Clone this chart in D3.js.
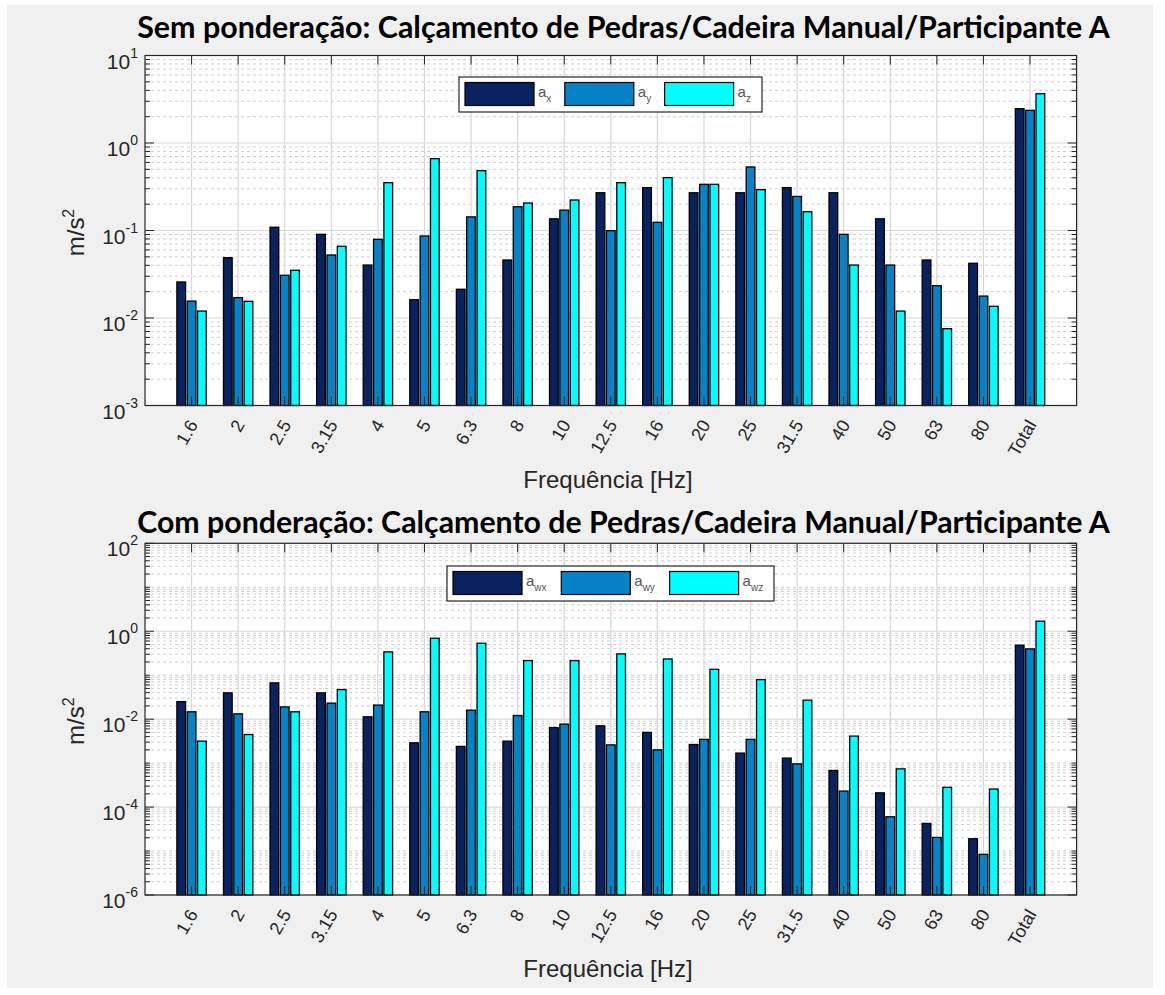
<!DOCTYPE html>
<html>
<head>
<meta charset="utf-8">
<script src="https://cdn.jsdelivr.net/npm/d3@7"></script>
<style>
  body { margin: 0; background: #ffffff; }
  svg { display: block; }
</style>
</head>
<body>
<div id="chart"></div>
<script>
// Bandas de 1/3 de oitava + total
var categories = ["1.6", "2", "2.5", "3.15", "4", "5", "6.3", "8", "10", "12.5",
                  "16", "20", "25", "31.5", "40", "50", "63", "80", "Total"];

// Sem ponderacao (m/s^2)
var semX = [0.0258, 0.0489, 0.109, 0.0904, 0.0403, 0.0162, 0.0213, 0.046, 0.136, 0.27,
            0.309, 0.27, 0.27, 0.309, 0.27, 0.136, 0.046, 0.0422, 2.47];
var semY = [0.0156, 0.0171, 0.0308, 0.0525, 0.0793, 0.0865, 0.143, 0.187, 0.171, 0.0995,
            0.124, 0.337, 0.532, 0.245, 0.0904, 0.0403, 0.0234, 0.0178, 2.36];
var semZ = [0.012, 0.0155, 0.0351, 0.066, 0.352, 0.662, 0.483, 0.206, 0.223, 0.352,
            0.402, 0.337, 0.293, 0.164, 0.0403, 0.012, 0.00755, 0.0136, 3.66];

// Com ponderacao (m/s^2)
var comX = [0.0251, 0.0396, 0.0668, 0.0396, 0.0113, 0.00289, 0.0024, 0.00316, 0.00645, 0.00705,
            0.005, 0.00265, 0.00169, 0.0013, 0.00068, 0.000211, 0.0000425, 0.000019, 0.481];
var comY = [0.0147, 0.0132, 0.019, 0.0231, 0.0209, 0.0147, 0.016, 0.0121, 0.00769, 0.0026,
            0.002, 0.00347, 0.00347, 0.00096, 0.000231, 0.0000602, 0.0000204, 0.0000084, 0.396];
var comZ = [0.00316, 0.00447, 0.0147, 0.0471, 0.339, 0.692, 0.533, 0.215, 0.215, 0.305,
            0.234, 0.136, 0.0794, 0.027, 0.00411, 0.00074, 0.000281, 0.000257, 1.69];

var semTickExps = [1, 0, -1, -2, -3];
var comTickExps = [2, 0, -2, -4, -6];

var semLegend = ["x", "y", "z"];
var comLegend = ["wx", "wy", "wz"];

var seriesColors = ["#0b2261", "#0782c6", "#00ffff"];

//// SETTINGS ///////////////////////////////////////////////////////////////////
var width = 1165, height = 995;
var axLeft = 145, axRight = 1076.6;
var textColor = "#262626";
var labelFont = "'Liberation Sans', Arial, Helvetica, sans-serif";

var svg = d3.select("#chart").append("svg")
    .attr("width", width)
    .attr("height", height);

svg.append("rect")
    .attr("x", 7).attr("y", 5)
    .attr("width", 1146).attr("height", 983)
    .attr("fill", "#f0f0f0");

var x = d3.scaleLinear().domain([0, categories.length + 1]).range([axLeft, axRight]);
var unit = x(1) - x(0);
var barW = unit * 0.187,
    barPitch = unit * 0.222;

function label(sel) {
    return sel.append("text")
        .attr("font-family", labelFont)
        .attr("fill", textColor);
}

function drawPanel(cfg) {
    var y = d3.scaleLog().domain(cfg.domain).range([cfg.bottom, cfg.top]);
    var g = svg.append("g");

    g.append("rect")
        .attr("x", axLeft).attr("y", cfg.top)
        .attr("width", axRight - axLeft).attr("height", cfg.bottom - cfg.top)
        .attr("fill", "#ffffff");

    // Grid: minor (dotted) then major (solid)
    var lo = Math.log10(cfg.domain[0]), hi = Math.log10(cfg.domain[1]);
    var majorVals = cfg.tickExps.map(function(e) { return Math.pow(10, e); });
    var minorVals = [];
    for (var e = lo; e < hi; e++) {
        for (var m = 1; m < 10; m++) {
            var v = m * Math.pow(10, e);
            if (majorVals.indexOf(v) < 0 && !(m === 1 && e === lo)) minorVals.push(v);
        }
    }

    g.selectAll(".minor-grid").data(minorVals).enter().append("line")
        .attr("x1", axLeft).attr("x2", axRight)
        .attr("y1", function(d) { return y(d); }).attr("y2", function(d) { return y(d); })
        .attr("stroke", "#d0d0d0").attr("stroke-width", 1)
        .attr("stroke-dasharray", "3,3");

    g.selectAll(".major-grid").data(majorVals).enter().append("line")
        .attr("x1", axLeft).attr("x2", axRight)
        .attr("y1", function(d) { return y(d); }).attr("y2", function(d) { return y(d); })
        .attr("stroke", "#d8d8d8").attr("stroke-width", 1.2);

    g.selectAll(".v-grid").data(categories).enter().append("line")
        .attr("x1", function(d, i) { return x(i + 1); }).attr("x2", function(d, i) { return x(i + 1); })
        .attr("y1", cfg.top).attr("y2", cfg.bottom)
        .attr("stroke", "#d8d8d8").attr("stroke-width", 1.2);

    // Bars
    cfg.series.forEach(function(vals, s) {
        g.selectAll(".bar" + s).data(vals).enter().append("rect")
            .attr("x", function(d, i) { return x(i + 1) + (s - 1) * barPitch - barW / 2; })
            .attr("y", function(d) { return y(d); })
            .attr("width", barW)
            .attr("height", function(d) { return cfg.bottom - y(d); })
            .attr("fill", seriesColors[s])
            .attr("stroke", "#000").attr("stroke-width", 1.3);
    });

    // Ticks (on top of bars, inward)
    var tickLen = 9, minorLen = 5;
    categories.forEach(function(c, i) {
        var tx = x(i + 1);
        g.append("line").attr("x1", tx).attr("x2", tx)
            .attr("y1", cfg.bottom).attr("y2", cfg.bottom - tickLen)
            .attr("stroke", textColor);
        g.append("line").attr("x1", tx).attr("x2", tx)
            .attr("y1", cfg.top).attr("y2", cfg.top + tickLen)
            .attr("stroke", textColor);
    });
    majorVals.forEach(function(v) {
        g.append("line").attr("x1", axLeft).attr("x2", axLeft + tickLen)
            .attr("y1", y(v)).attr("y2", y(v)).attr("stroke", textColor);
        g.append("line").attr("x1", axRight).attr("x2", axRight - tickLen)
            .attr("y1", y(v)).attr("y2", y(v)).attr("stroke", textColor);
    });
    minorVals.forEach(function(v) {
        g.append("line").attr("x1", axLeft).attr("x2", axLeft + minorLen)
            .attr("y1", y(v)).attr("y2", y(v)).attr("stroke", textColor);
        g.append("line").attr("x1", axRight).attr("x2", axRight - minorLen)
            .attr("y1", y(v)).attr("y2", y(v)).attr("stroke", textColor);
    });

    // Axes box
    g.append("rect")
        .attr("x", axLeft).attr("y", cfg.top)
        .attr("width", axRight - axLeft).attr("height", cfg.bottom - cfg.top)
        .attr("fill", "none").attr("stroke", textColor).attr("stroke-width", 1.2);

    // Y tick labels 10^n
    cfg.tickExps.forEach(function(e) {
        var t = label(g)
            .attr("x", 138).attr("y", y(Math.pow(10, e)) + 13)
            .attr("text-anchor", "end")
            .style("font-size", "21px");
        t.append("tspan").text("10");
        t.append("tspan").attr("dy", -11).style("font-size", "14px").text(String(e));
    });

    // X tick labels, rotated
    categories.forEach(function(c, i) {
        label(g)
            .attr("transform", "translate(" + (x(i + 1) + 7) + "," + (cfg.bottom + 19) + ") rotate(-60)")
            .attr("text-anchor", "end")
            .style("font-size", "18px")
            .text(c);
    });

    // Axis labels
    label(g)
        .attr("x", 608).attr("y", cfg.bottom + 82)
        .attr("text-anchor", "middle")
        .style("font-size", "24px")
        .text("Frequência [Hz]");

    var yl = label(g)
        .attr("transform", "translate(84," + ((cfg.top + cfg.bottom) / 2 + 2) + ") rotate(-90)")
        .attr("text-anchor", "middle")
        .style("font-size", "24px");
    yl.append("tspan").text("m/s");
    yl.append("tspan").attr("dy", -10).style("font-size", "16px").text("2");

    // Title, fitted to the measured width
    var title = g.append("text")
        .attr("x", 623.5).attr("y", cfg.titleY)
        .attr("text-anchor", "middle")
        .style("font-family", "Lato, 'Open Sans', sans-serif")
        .style("font-weight", "bold")
        .style("font-size", "26px")
        .attr("fill", "#000")
        .text(cfg.title);
    var len = title.node().getComputedTextLength();
    title.style("font-size", (26 * 973 / len) + "px");

    // Legend
    var lg = cfg.legend;
    g.append("rect")
        .attr("x", lg.x).attr("y", lg.y).attr("width", lg.w).attr("height", lg.h)
        .attr("fill", "#fff").attr("stroke", textColor).attr("stroke-width", 1.2);
    cfg.legendLabels.forEach(function(lab, i) {
        var rx = lg.x + 6 + i * lg.pitch;
        g.append("rect")
            .attr("x", rx).attr("y", lg.y + 5.5)
            .attr("width", 69).attr("height", 23)
            .attr("fill", seriesColors[i])
            .attr("stroke", "#000").attr("stroke-width", 1.2);
        var t = label(g)
            .attr("x", rx + 73).attr("y", lg.y + 20)
            .attr("fill", "#555")
            .style("font-size", "15px");
        t.append("tspan").text("a");
        t.append("tspan").attr("dy", 5).style("font-size", "10px").text(lab);
    });
}

drawPanel({
    top: 55.5, bottom: 405.5,
    domain: [1e-3, 1e1],
    tickExps: semTickExps,
    series: [semX, semY, semZ],
    title: "Sem ponderação: Calçamento de Pedras/Cadeira Manual/Participante A",
    titleY: 38,
    legendLabels: semLegend,
    legend: { x: 459, y: 77, w: 303, h: 35, pitch: 99.8 }
});

drawPanel({
    top: 543.3, bottom: 895,
    domain: [1e-6, 1e2],
    tickExps: comTickExps,
    series: [comX, comY, comZ],
    title: "Com ponderação: Calçamento de Pedras/Cadeira Manual/Participante A",
    titleY: 533,
    legendLabels: comLegend,
    legend: { x: 447, y: 566, w: 327, h: 35, pitch: 108.3 }
});
</script>
</body>
</html>
